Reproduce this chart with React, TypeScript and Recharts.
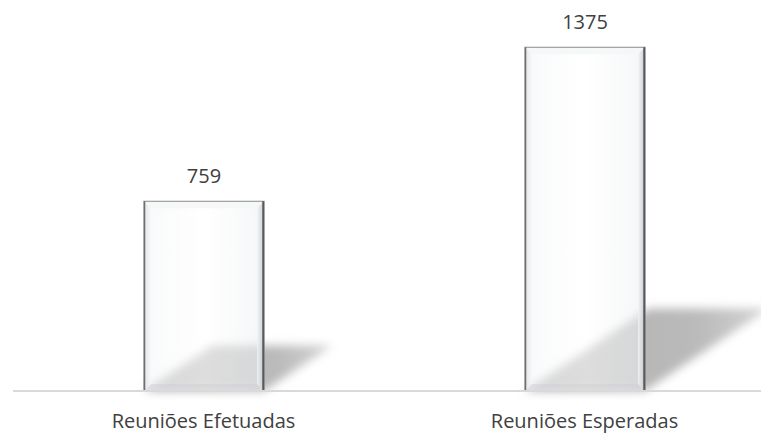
import React from "react";
import { BarChart, Bar, XAxis, YAxis, LabelList } from "recharts";

const categories = ["Reuniões Efetuadas", "Reuniões Esperadas"];
const values = [759, 1375];

const data = categories.map((name, i) => ({ name, value: values[i] }));

const FONT = "'Open Sans', 'Noto Sans', sans-serif";
const TEXT = "#404040";

function GlassBar(props: any) {
  const { x, y, width, height } = props;
  if (!height || height <= 0) return null;
  const base = y + height;
  const dx = height * 0.36;
  const dy = height * 0.24;
  const b = 7;
  return (
    <g>
      <polygon
        points={`${x},${base} ${x + width},${base} ${x + width + dx},${base - dy} ${x + dx},${base - dy}`}
        fill="url(#shadowFill)"
        filter="url(#shadowBlur)"
      />
      <rect x={x} y={y} width={width} height={height} fill="url(#barBody)" fillOpacity={0.55} />
      {/* bevel edges */}
      <polygon
        points={`${x},${y} ${x + width},${y} ${x + width - b},${y + b} ${x + b},${y + b}`}
        fill="#f4f6f8"
        fillOpacity={0.9}
      />
      <polygon
        points={`${x + width},${y} ${x + width},${base} ${x + width - b},${base - b} ${x + width - b},${y + b}`}
        fill="url(#bevelRight)"
        fillOpacity={0.8}
      />
      <polygon
        points={`${x},${y} ${x + b},${y + b} ${x + b},${base - b} ${x},${base}`}
        fill="url(#bevelLeft)"
        fillOpacity={0.75}
      />
      <polygon
        points={`${x},${base} ${x + b},${base - b} ${x + width - b},${base - b} ${x + width},${base}`}
        fill="#c9cdd1"
        fillOpacity={0.45}
      />
      <rect x={x} y={y} width={width} height={height} fill="none" stroke="#8a8a8a" strokeWidth={1} />
      <line x1={x + 0.5} y1={y} x2={x + 0.5} y2={base} stroke="#6e6e6e" strokeWidth={1.5} />
      <line x1={x + width - 0.75} y1={y} x2={x + width - 0.75} y2={base} stroke="#5a5a5a" strokeWidth={2} />
    </g>
  );
}

function CategoryTick(props: any) {
  const { x, y, payload } = props;
  return (
    <text x={x} y={y + 29} textAnchor="middle" fill={TEXT} fontSize={20} fontFamily={FONT}>
      {payload.value}
    </text>
  );
}

function ValueLabel(props: any) {
  const { x, y, width, value } = props;
  return (
    <text x={x + width / 2} y={y - 18} textAnchor="middle" fill={TEXT} fontSize={20} fontFamily={FONT}>
      {value}
    </text>
  );
}

export default function App() {
  return (
    <div
      style={{
        position: "fixed",
        left: 0,
        top: 0,
        width: 761,
        height: 433,
        overflow: "hidden",
        background: "#ffffff",
      }}
    >
      <BarChart
        width={775}
        height={433}
        data={data}
        margin={{ top: 41, right: 0, left: 13, bottom: 0 }}
        barSize={120}
      >
        <defs>
          <filter id="shadowBlur" x="-30%" y="-30%" width="160%" height="160%">
            <feGaussianBlur stdDeviation="5" />
          </filter>
          <linearGradient id="shadowFill" x1="0" y1="0" x2="1" y2="0">
            <stop offset="0%" stopColor="#b0b0b0" />
            <stop offset="70%" stopColor="#bababa" />
            <stop offset="100%" stopColor="#d4d4d4" />
          </linearGradient>
          <linearGradient id="barBody" x1="0" y1="0" x2="1" y2="0">
            <stop offset="0%" stopColor="#f3f5f7" />
            <stop offset="50%" stopColor="#ffffff" />
            <stop offset="100%" stopColor="#eef0f2" />
          </linearGradient>
          <linearGradient id="bevelRight" x1="0" y1="0" x2="1" y2="0">
            <stop offset="0%" stopColor="#f2f4f6" />
            <stop offset="100%" stopColor="#bfc4c9" />
          </linearGradient>
          <linearGradient id="bevelLeft" x1="0" y1="0" x2="1" y2="0">
            <stop offset="0%" stopColor="#d9dde1" />
            <stop offset="100%" stopColor="#f7f8f9" />
          </linearGradient>
        </defs>
        <XAxis
          dataKey="name"
          height={42}
          tickLine={false}
          axisLine={{ stroke: "#d9d9d9", strokeWidth: 2 }}
          tick={<CategoryTick />}
          interval={0}
        />
        <YAxis hide domain={[0, 1400]} width={0} />
        <Bar dataKey="value" shape={<GlassBar />} isAnimationActive={false}>
          <LabelList dataKey="value" content={<ValueLabel />} />
        </Bar>
      </BarChart>
    </div>
  );
}
